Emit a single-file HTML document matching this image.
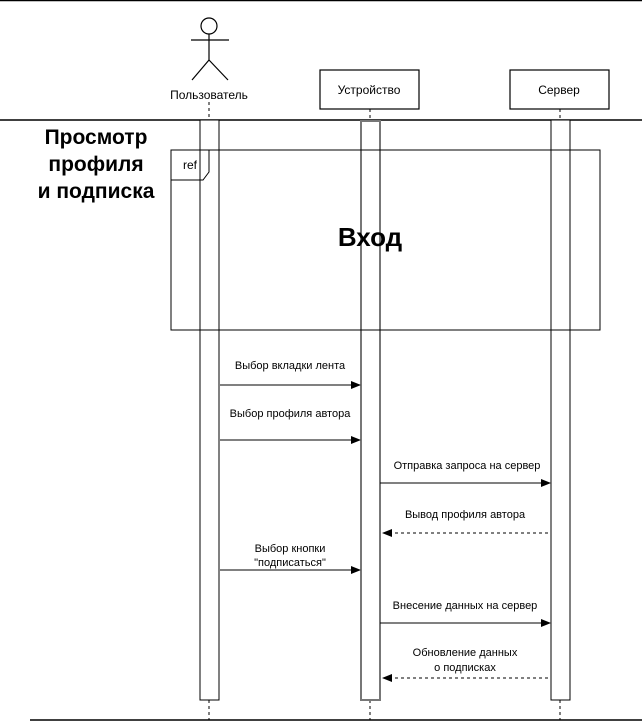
<!DOCTYPE html>
<html><head><meta charset="utf-8"><style>body{margin:0;background:#fff}</style></head><body>
<svg width="642" height="722" xmlns="http://www.w3.org/2000/svg" font-family="Liberation Sans, sans-serif">
<line x1="0" y1="0.5" x2="642" y2="0.5" stroke="#000" stroke-width="1.5"/>
<line x1="0" y1="120" x2="642" y2="120" stroke="#000" stroke-width="1.5"/>
<line x1="30" y1="720" x2="642" y2="720" stroke="#000" stroke-width="1.5"/>
<g stroke="#000" fill="none" stroke-width="1.2">
<circle cx="209" cy="26" r="8"/>
<line x1="209" y1="34" x2="209" y2="60"/>
<line x1="191" y1="40" x2="229" y2="40"/>
<line x1="209" y1="60" x2="192" y2="80"/>
<line x1="209" y1="60" x2="228" y2="80"/>
<rect x="320" y="70" width="99" height="39" fill="#fff"/>
<rect x="510" y="70" width="99" height="39" fill="#fff"/>
</g>
<g stroke="#000" stroke-dasharray="3,3">
<line x1="209" y1="102" x2="209" y2="120"/><line x1="370" y1="109" x2="370" y2="120"/><line x1="560" y1="109" x2="560" y2="120"/>
<line x1="209" y1="700" x2="209" y2="720"/><line x1="370" y1="700" x2="370" y2="720"/><line x1="560" y1="700" x2="560" y2="720"/>
</g>
<g font-size="12" text-anchor="middle">
<text x="209" y="99">Пользователь</text>
<text x="369" y="94">Устройство</text>
<text x="559" y="94">Сервер</text>
</g>
<rect x="200" y="120" width="19" height="580" fill="#fff" stroke="#000"/>
<rect x="551" y="120" width="19" height="580" fill="#fff" stroke="#000"/>
<rect x="361" y="121" width="19" height="579" fill="#fff" stroke="#777" stroke-width="2"/>
<rect x="171" y="150" width="429" height="180" fill="none" stroke="#000"/>
<path d="M171 180 H203 L209 172 V150" fill="none" stroke="#000"/>
<text x="190" y="169" font-size="12" text-anchor="middle">ref</text>
<text x="370" y="246" font-size="26" font-weight="bold" text-anchor="middle">Вход</text>
<g font-size="21" font-weight="bold" text-anchor="middle">
<text x="96" y="144">Просмотр</text><text x="96" y="171">профиля</text><text x="96" y="198">и подписка</text>
</g>
<defs><marker id="a" markerWidth="10" markerHeight="8" refX="9" refY="4" orient="auto" markerUnits="userSpaceOnUse"><path d="M0 0L10 4L0 8z"/></marker></defs>
<g stroke="#000" marker-end="url(#a)">
<line x1="220" y1="385" x2="360" y2="385"/>
<line x1="220" y1="440" x2="360" y2="440"/>
<line x1="380" y1="483" x2="550" y2="483"/>
<line x1="548" y1="533" x2="383" y2="533" stroke-dasharray="3,3"/>
<line x1="220" y1="570" x2="360" y2="570"/>
<line x1="380" y1="623" x2="550" y2="623"/>
<line x1="548" y1="678" x2="383" y2="678" stroke-dasharray="3,3"/>
</g>
<g font-size="11" text-anchor="middle">
<text x="290" y="369">Выбор вкладки лента</text>
<text x="290" y="417">Выбор профиля автора</text>
<text x="467" y="469">Отправка запроса на сервер</text>
<text x="465" y="518">Вывод профиля автора</text>
<text x="290" y="552">Выбор кнопки</text>
<text x="290" y="566">"подписаться"</text>
<text x="465" y="609">Внесение данных на сервер</text>
<text x="465" y="656">Обновление данных</text>
<text x="465" y="671">о подписках</text>
</g>
</svg>
</body></html>
